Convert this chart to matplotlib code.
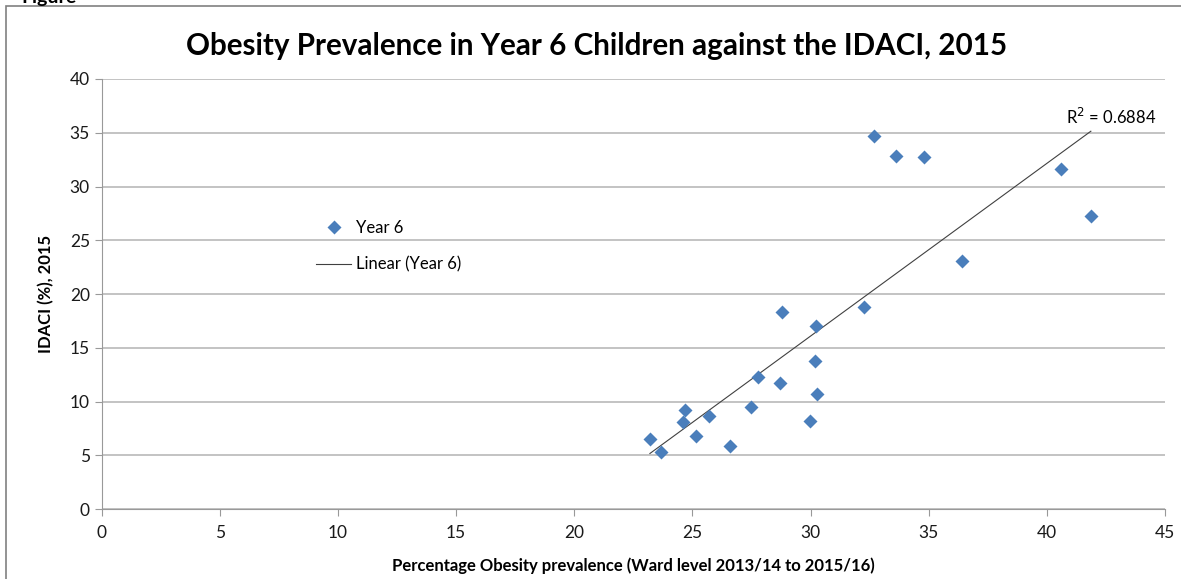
import numpy as np
import matplotlib.pyplot as plt
from matplotlib.patches import Rectangle

# ward values
obesity = [23.20, 23.67, 24.70, 24.58, 25.17, 25.71, 26.58, 27.49, 27.79, 28.71, 29.98,
           30.29, 30.19, 28.78, 30.22, 32.27, 32.68, 33.60, 34.78, 40.60, 41.86, 36.39]
idaci = [6.53, 5.30, 9.23, 8.11, 6.78, 8.67, 5.85, 9.51, 12.27, 11.74, 8.18,
         10.69, 13.81, 18.31, 17.04, 18.77, 34.69, 32.86, 32.74, 31.63, 27.29, 23.05]
r2_text = 'R$^2$ = 0.6884'

x = np.array(obesity)
y = np.array(idaci)

plt.rcParams['font.family'] = ['Lato', 'DejaVu Sans']

fig = plt.figure(figsize=(11.81, 5.79), dpi=100)
ax = fig.add_axes([0.0861, 0.1204, 0.9004, 0.7432])

# outer chart border
fig.patches.append(Rectangle((6 / 1181, -0.05), 1.2, 0.9896 + 0.05, transform=fig.transFigure,
                             fill=False, edgecolor='#808080', lw=1.2))
fig.text(0.018, 1.004, 'Figure', fontsize=14, fontweight='bold', va='center')

ax.plot(x, y, 'D', color='#4a7ebb', ms=7.6, mec='none', label='Year 6', zorder=3)

m, c = np.polyfit(x, y, 1)
xs = np.array([x.min(), x.max()])
ax.plot(xs, m * xs + c, color='#404040', lw=0.8, label='Linear (Year 6)', zorder=2)
ax.text(42.7, 36.5, r2_text, fontsize=12, ha='center', va='center')

ax.set_xlim(0, 45)
ax.set_ylim(0, 40)
ax.set_xticks(np.arange(0, 46, 5))
ax.set_yticks(np.arange(0, 41, 5))
ax.yaxis.grid(True, color='#b3b3b3', lw=1.1)
ax.set_axisbelow(True)
for s in ['top', 'right']:
    ax.spines[s].set_visible(False)
for s in ['left', 'bottom']:
    ax.spines[s].set_color('#999999')
ax.tick_params(axis='both', colors='#999999', labelcolor='#1a1a1a', labelsize=12.5, length=5, direction='out')
ax.tick_params(axis='x', pad=6)

ax.set_xlabel('Percentage Obesity prevalence (Ward level 2013/14 to 2015/16)', fontsize=12,
              fontweight='bold', labelpad=12)
ax.set_ylabel('IDACI (%), 2015', fontsize=12, fontweight='bold', labelpad=11)

fig.text(0.505, 0.921, 'Obesity Prevalence in Year 6 Children against the IDACI, 2015',
         fontsize=21.3, fontweight='bold', ha='center', va='center')

ax.legend(loc='center left', bbox_to_anchor=(0.255, 0.575), bbox_transform=fig.transFigure,
          frameon=False, fontsize=12, handlelength=2.1, labelspacing=1.25, handletextpad=0.3)

plt.savefig('out.png', dpi=100)
